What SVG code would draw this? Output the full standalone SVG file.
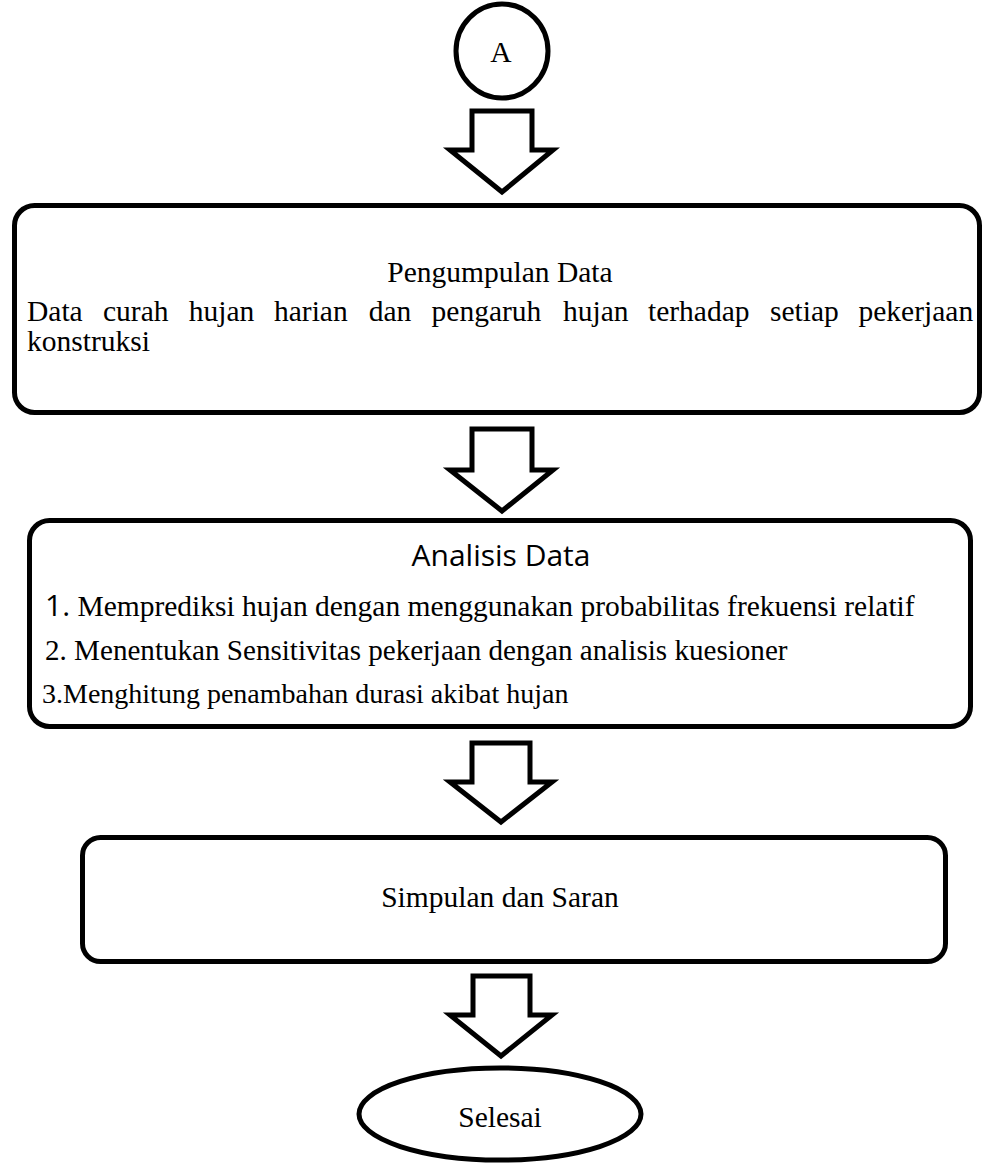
<svg xmlns="http://www.w3.org/2000/svg" width="982" height="1164" viewBox="0 0 982 1164">
<style>
.shape{fill:#fff;stroke:#000;stroke-width:5}
.arrow{fill:#fff;stroke:#000;stroke-width:5;stroke-linejoin:miter}
.t{font-family:"Liberation Serif","Times New Roman",serif;font-size:29.5px;fill:#000}
.c{text-anchor:middle}
.s{font-family:"Open Sans","Liberation Sans",sans-serif;font-size:30px;fill:#000}
</style>
<rect width="982" height="1164" fill="#fff"/>
<g id="connectors">
<path class="arrow" d="M472,111 H532 V150 H553 L502,192 L450,150 H472 Z"/>
<path class="arrow" d="M472,429 H532 V470 H553 L502,511 L450,470 H472 Z"/>
<path class="arrow" d="M472,743 H530 V782 H552 L501,822 L450,782 H472 Z"/>
<path class="arrow" d="M473,976 H530 V1015 H552 L501,1056 L450,1015 H473 Z"/>
</g>
<g id="node-a">
<ellipse class="shape" cx="502" cy="51" rx="46" ry="47"/>
<text class="t c" x="501" y="62">A</text>
</g>
<g id="node-pengumpulan">
<rect class="shape" x="14.5" y="205.5" width="965" height="207" rx="20"/>
<text class="t c" x="500" y="282">Pengumpulan Data</text>
<text class="t" y="321"><tspan x="27">Data</tspan><tspan x="103">curah</tspan><tspan x="188.8">hujan</tspan><tspan x="274">harian</tspan><tspan x="368.7">dan</tspan><tspan x="431.6">pengaruh</tspan><tspan x="563">hujan</tspan><tspan x="648">terhadap</tspan><tspan x="770">setiap</tspan><tspan x="858.5">pekerjaan</tspan></text>
<text class="t" x="27" y="351">konstruksi</text>
</g>
<g id="node-analisis">
<rect class="shape" x="29.5" y="520.5" width="941" height="206" rx="20"/>
<text class="s c" x="501" y="566">Analisis Data</text>
<text x="45" y="616"><tspan class="s">1.</tspan><tspan class="t"> Memprediksi hujan dengan menggunakan probabilitas frekuensi relatif</tspan></text>
<text class="t" x="45" y="660" style="font-size:29.1px">2. Menentukan Sensitivitas pekerjaan dengan analisis kuesioner</text>
<text class="t" x="42" y="703" style="font-size:28px">3.Menghitung penambahan durasi akibat hujan</text>
</g>
<g id="node-simpulan">
<rect class="shape" x="82.5" y="837.5" width="863" height="124" rx="18"/>
<text class="t c" x="500" y="907">Simpulan dan Saran</text>
</g>
<g id="node-selesai">
<ellipse class="shape" cx="500" cy="1114" rx="141" ry="46"/>
<text class="t c" x="500" y="1127">Selesai</text>
</g>
</svg>
